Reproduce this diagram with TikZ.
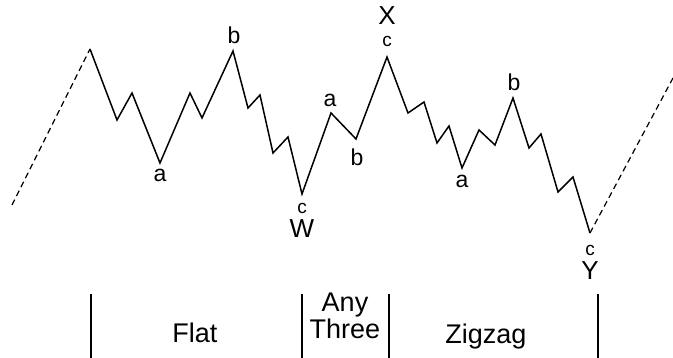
\documentclass[tikz,border=0pt]{standalone}
\usepackage{fontspec}
\setmainfont{Liberation Sans}
\begin{document}
\begin{tikzpicture}[x=1pt,y=-1pt,
  wave/.style={line width=1.5pt,line join=miter},
  dashline/.style={line width=1.2pt,dash pattern=on 6pt off 4pt},
  sep/.style={line width=1.4pt},
  lbl/.style={inner sep=0pt,font=\fontsize{23}{23}\selectfont},
  clbl/.style={inner sep=0pt,font=\fontsize{19}{19}\selectfont},
  big/.style={inner sep=0pt,font=\fontsize{26}{26}\selectfont},
  part/.style={inner sep=0pt,anchor=base,font=\fontsize{27}{28}\selectfont,align=center}]
\useasboundingbox (0,0) rectangle (673,358);
% wave points
\coordinate (s) at (12,205);
\coordinate (p0) at (90,49);
\coordinate (p1) at (117,120);
\coordinate (p2) at (132,93);
\coordinate (a1) at (160,163);
\coordinate (p4) at (190,93);
\coordinate (p5) at (202,118);
\coordinate (b1) at (233,51);
\coordinate (p7) at (248,108);
\coordinate (p8) at (260,95);
\coordinate (p9) at (273,153);
\coordinate (p10) at (288,137);
\coordinate (w) at (302,194);
\coordinate (a2) at (331,113);
\coordinate (b2) at (356,139);
\coordinate (x) at (387,57);
\coordinate (q1) at (408,113);
\coordinate (q2) at (424,102);
\coordinate (q3) at (437,143);
\coordinate (q4) at (449,126);
\coordinate (a3) at (462,168);
\coordinate (q6) at (479,130);
\coordinate (q7) at (495,145);
\coordinate (b3) at (513,98);
\coordinate (q9) at (529,148);
\coordinate (q10) at (541,134);
\coordinate (q11) at (558,192);
\coordinate (q12) at (573,177);
\coordinate (y) at (590,233);
\coordinate (e) at (673,78);
% lines
\draw[dashline] (s) -- (p0);
\draw[wave] (p0) -- (p1) -- (p2) -- (a1) -- (p4) -- (p5) -- (b1) -- (p7) -- (p8) -- (p9) -- (p10) -- (w)
  -- (a2) -- (b2) -- (x) -- (q1) -- (q2) -- (q3) -- (q4) -- (a3) -- (q6) -- (q7) -- (b3) -- (q9) -- (q10)
  -- (q11) -- (q12) -- (y);
\draw[dashline] (y) -- (e);
% labels
\node[lbl] (la1) at (160,175) {a};
\node[lbl] (lb1) at (234,35) {b};
\node[clbl] (lc1) at (302,208) {c};
\node[big] (lw) at (302,229) {W};
\node[lbl] (la2) at (330,100) {a};
\node[lbl] (lb2) at (357,157) {b};
\node[big] (lx) at (387,16) {X};
\node[clbl] (lc2) at (387,41) {c};
\node[lbl] (la3) at (462,181) {a};
\node[lbl] (lb3) at (514,82) {b};
\node[clbl] (lc3) at (590,250) {c};
\node[big] (ly) at (590,271) {Y};
% bottom separators
\coordinate (t1) at (91,294); \coordinate (u1) at (91,358);
\coordinate (t2) at (302,294); \coordinate (u2) at (302,358);
\coordinate (t3) at (389,294); \coordinate (u3) at (389,358);
\coordinate (t4) at (598,294); \coordinate (u4) at (598,358);
\draw[sep] (t1) -- (u1);
\draw[sep] (t2) -- (u2);
\draw[sep] (t3) -- (u3);
\draw[sep] (t4) -- (u4);
\node[part] (flat) at (195,343) {Flat};
\node[part] (any) at (345,312) {Any};
\node[part] (three) at (345,339) {Three};
\node[part] (zig) at (486,344) {Zigzag};
\end{tikzpicture}
\end{document}
